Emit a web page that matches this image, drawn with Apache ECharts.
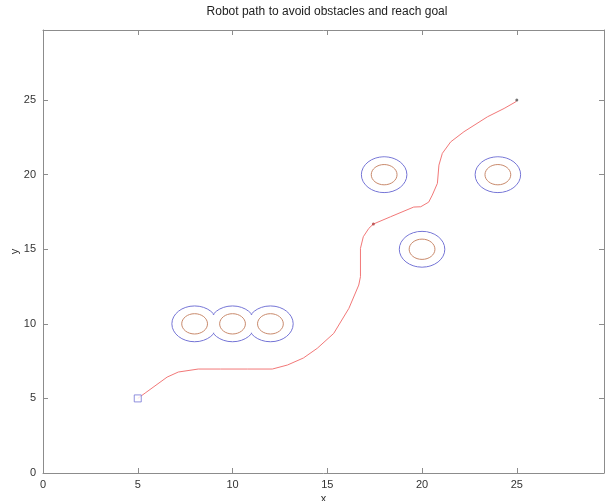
<!DOCTYPE html>
<html>
<head>
<meta charset="utf-8">
<script src="https://cdn.jsdelivr.net/npm/echarts@6/dist/echarts.min.js"></script>
<style>
  html, body { margin: 0; padding: 0; background: #fff; }
  #robotPathChart { width: 605px; height: 501px; }
</style>
</head>
<body>
<div id="robotPathChart"></div>
<script>
  // path of the robot
  const pathX = [5, 5.39, 6.55, 7.14, 8.19, 9.36, 10.78, 12.10, 12.90, 13.74, 14.47, 15.34, 16.14, 16.66,
    16.75, 16.75, 16.9, 17.19, 17.43, 18.34, 19.56, 19.93, 20.35, 20.54, 20.81, 20.89, 21.07, 21.51,
    22.21, 23.45, 24.33, 24.95, 25];
  const pathY = [5, 5.36, 6.43, 6.77, 6.97, 6.97, 6.97, 6.97, 7.24, 7.71, 8.36, 9.36, 11.04, 12.6,
    13.16, 15.06, 15.84, 16.4, 16.69, 17.18, 17.83, 17.85, 18.16, 18.63, 19.42, 20.64, 21.43, 22.2,
    22.88, 23.88, 24.44, 24.89, 25];

  // obstacles (centre x, centre y) and contour radii
  const obstacleX = [8, 10, 12, 18, 24, 20];
  const obstacleY = [10, 10, 10, 20, 20, 15];
  const outerRadius = 1.2;
  const innerRadius = 0.68;

  const startPoint = [5, 5];
  const goalPoint = [25, 25];
  const midPoint = [17.43, 16.69];

  const xTicks = [0, 5, 10, 15, 20, 25];
  const yTicks = [0, 5, 10, 15, 20, 25];

  const pathData = pathX.map((x, i) => [x, pathY[i]]);
  const outerData = obstacleX.map((x, i) => [x, obstacleY[i], outerRadius]);
  const innerData = obstacleX.map((x, i) => [x, obstacleY[i], innerRadius]);

  // shrink = pixels taken off the radius (used by the white masks)
  function circleItem(fill, stroke, shrink) {
    return function (params, api) {
      const c = api.coord([api.value(0), api.value(1)]);
      const s = api.size([api.value(2), api.value(2)]);
      return {
        type: 'ellipse',
        shape: {cx: c[0], cy: c[1], rx: s[0] - shrink, ry: s[1] - shrink},
        style: {fill: fill, stroke: stroke, lineWidth: 1}
      };
    };
  }

  const labelFmt = function (ticks) {
    return function (v) {
      return ticks.indexOf(v) >= 0 ? String(v) : '';
    };
  };

  const axisBase = {
    type: 'value',
    min: 0,
    interval: 5,
    axisLine: {show: true, onZero: false, lineStyle: {color: '#8c8c8c', width: 1}},
    axisTick: {show: true, inside: true, length: 5, lineStyle: {color: '#8c8c8c'}},
    splitLine: {show: false}
  };

  const chart = echarts.init(document.getElementById('robotPathChart'));
  chart.setOption({
    backgroundColor: '#fff',
    animation: false,
    title: {
      text: 'Robot path to avoid obstacles and reach goal',
      left: 322,
      textAlign: 'center',
      top: 1,
      textStyle: {fontFamily: 'Liberation Sans', fontSize: 12, fontWeight: 'normal', color: '#222'}
    },
    grid: {left: 43, right: 1, top: 30, bottom: 28, outerBoundsMode: 'none', containLabel: false},
    xAxis: [
      Object.assign({}, axisBase, {
        position: 'bottom', max: 29.6,
        name: 'x', nameLocation: 'middle', nameGap: 20, nameMoveOverlap: false,
        nameTextStyle: {fontFamily: 'Liberation Sans', fontSize: 11, color: '#333'},
        axisLabel: {fontFamily: 'Liberation Sans', fontSize: 11, color: '#333', margin: 6,
          formatter: labelFmt(xTicks)}
      }),
      Object.assign({}, axisBase, {
        position: 'top', max: 29.6, axisLabel: {show: false}
      })
    ],
    yAxis: [
      Object.assign({}, axisBase, {
        position: 'left', max: 29.7,
        name: 'y', nameLocation: 'middle', nameGap: 23, nameMoveOverlap: false,
        nameTextStyle: {fontFamily: 'Liberation Sans', fontSize: 11, color: '#333'},
        axisLabel: {fontFamily: 'Liberation Sans', fontSize: 11, color: '#333', margin: 7,
          formatter: labelFmt(yTicks)}
      }),
      Object.assign({}, axisBase, {
        position: 'right', max: 29.7, axisLabel: {show: false}
      })
    ],
    series: [
      {
        name: 'outer',
        type: 'custom',
        renderItem: circleItem('none', '#7474d6', 0),
        data: outerData,
        z: 2
      },
      {
        // white masks so joined obstacles show one outline
        name: 'mask',
        type: 'custom',
        renderItem: circleItem('#fff', 'none', 1),
        data: outerData,
        z: 3,
        silent: true
      },
      {
        name: 'inner',
        type: 'custom',
        renderItem: circleItem('none', '#c98a6c', 0),
        data: innerData,
        z: 4
      },
      {
        name: 'path',
        type: 'line',
        data: pathData,
        symbol: 'none',
        lineStyle: {color: '#f27878', width: 1},
        z: 5
      },
      {
        name: 'start',
        type: 'scatter',
        data: [startPoint],
        symbol: 'rect',
        symbolSize: 7,
        itemStyle: {color: '#fff', borderColor: '#7474d6', borderWidth: 1},
        z: 6
      },
      {
        name: 'goal',
        type: 'scatter',
        data: [goalPoint],
        symbol: 'circle',
        symbolSize: 3,
        itemStyle: {color: '#555'},
        z: 6
      },
      {
        name: 'mid',
        type: 'scatter',
        data: [midPoint],
        symbol: 'circle',
        symbolSize: 3,
        itemStyle: {color: '#b04040'},
        z: 6
      }
    ]
  });
</script>
</body>
</html>
